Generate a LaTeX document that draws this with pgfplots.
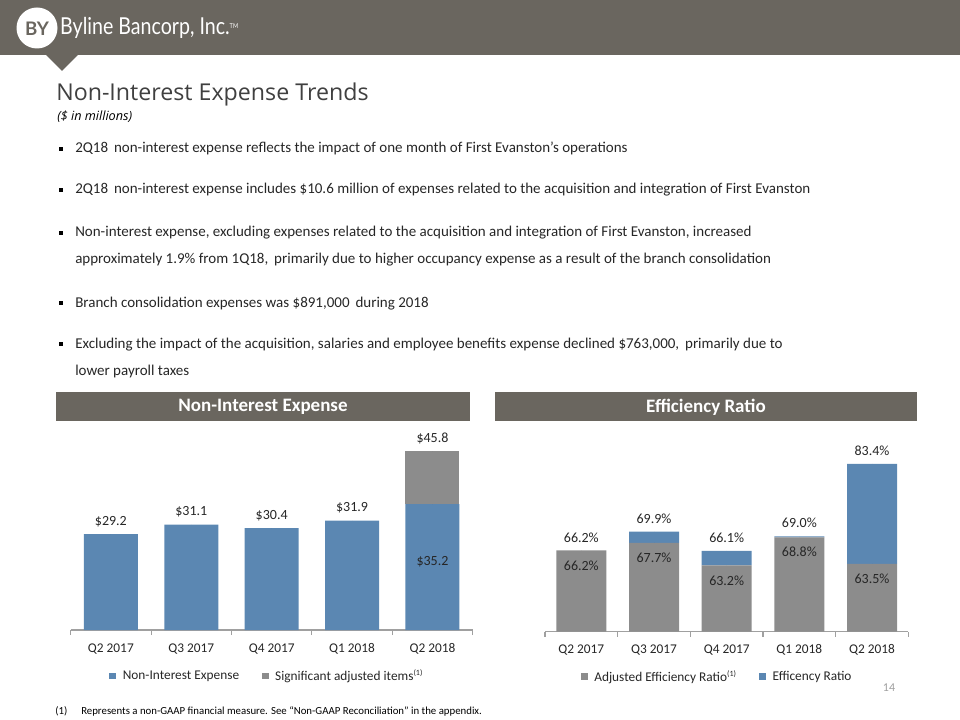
\documentclass[border=0pt]{standalone}
\usepackage{pgfplots}
\pgfplotsset{compat=1.18}
\usepackage{fontspec}
\setmainfont{Carlito}
\newfontfamily\titlefont{Open Sans}
\newfontfamily\logofont{Lato}
\definecolor{hdr}{HTML}{6A665F}
\definecolor{barblue}{HTML}{5B87B2}
\definecolor{bargray}{HTML}{8C8C8C}
\definecolor{txt}{HTML}{404040}
\definecolor{lbl}{HTML}{262626}
\definecolor{axgray}{HTML}{A0A0A0}

\pgfplotstableread{
x ner adj
0 29.2 0
1 31.1 0
2 30.4 0
3 31.9 0
4 35.2 10.6
}\nieTable
\pgfplotstableread{
x adjeff delta
0 66.2 0.0
1 67.7 2.2
2 63.2 2.9
3 68.8 0.2
4 63.5 19.9
}\effTable

\pgfplotsset{
  slidebars/.style={
    scale only axis, anchor=south west,
    ybar stacked,
    xmin=-0.5, xmax=4.5,
    axis x line*=bottom, axis y line=none,
    x axis line style={axgray, line width=0.8pt},
    xtick={0,1,2,3,4},
    xticklabels={Q2 2017,Q3 2017,Q4 2017,Q1 2018,Q2 2018},
    minor xtick={-0.5,0.5,1.5,2.5,3.5,4.5},
    major tick length=0pt, minor tick length=3.75pt,
    tick align=outside, tick style={axgray, line width=0.8pt},
    xticklabel style={font=\fontsize{10}{12}\selectfont, text=lbl, anchor=base, yshift=-16.5pt},
    clip=false,
    legend cell align=left,
    legend image code/.code={\fill[##1, draw=none] (0pt,-2.5pt) rectangle (5pt,2.5pt);},
  },
  labelaxis/.style={
    scale only axis, anchor=south west, hide axis,
    xmin=-0.5, xmax=4.5, clip=false,
  },
  lblplot/.style={
    only marks, mark=*, mark size=0pt, mark options={draw=none, fill=none},
    point meta=explicit symbolic, nodes near coords,
    nodes near coords style={font=\fontsize{10.5}{12}\selectfont, text=lbl, anchor=center, yshift=#1},
  },
  sliderlegend/.style={
    legend style={at={#1}, anchor=center, draw=none, fill=none, legend columns=2,
    font=\fontsize{10}{12}\selectfont, text=lbl,
    /tikz/every odd column/.append style={column sep=3pt},
    /tikz/every even column/.append style={column sep=15pt}},
  },
}

\begin{document}
\begin{tikzpicture}
\begin{scope}[x=0.75pt,y=-0.75pt]
\path[use as bounding box] (0,0) rectangle (960,720);
% header
\fill[hdr] (0,0) rectangle (960,55);
\fill[hdr] (45,54) -- (79,54) -- (62,71) -- cycle;
\fill[white] (37,28) circle (20.5);
\node[text=hdr, font=\logofont\bfseries\fontsize{14}{14}\selectfont, inner sep=0] at (37,29) {BY};
\node[anchor=base west, text=white, font=\logofont\fontsize{17.5}{18}\selectfont, inner sep=0, xscale=0.84] at (60,35) {Byline Bancorp, Inc.{\fontsize{5}{5}\selectfont\raisebox{5pt}{TM}}};
% title
\node[anchor=base west, inner sep=0, text=txt, font=\titlefont\fontsize{17.4}{20}\selectfont] at (56,101) {Non-Interest Expense Trends};
\node[anchor=base west, inner sep=0, text=black, font=\titlefont\itshape\fontsize{9.5}{11}\selectfont] at (57,121) {(\$ in millions)};
% bullets
\foreach \yy in {149,190,233,303,344} {\fill[black] (59,\yy-2) rectangle (63,\yy+2);}
\begin{scope}[every node/.style={anchor=base west, inner sep=0, text=lbl, font=\fontsize{11.25}{13}\selectfont}]
\node at (75,153) {2Q18\, non-interest expense reflects the impact of one month of First Evanston’s operations};
\node at (75,194) {2Q18\, non-interest expense includes \$10.6 million of expenses related to the acquisition and integration of First Evanston};
\node at (75,237) {Non-interest expense, excluding expenses related to the acquisition and integration of First Evanston, increased};
\node at (75,264) {approximately 1.9\% from 1Q18,\, primarily due to higher occupancy expense as a result of the branch consolidation};
\node at (75,307) {Branch consolidation expenses was \$891,000\, during 2018};
\node at (75,348) {Excluding the impact of the acquisition, salaries and employee benefits expense declined \$763,000,\, primarily due to};
\node at (75,375) {lower payroll taxes};
\end{scope}
% section headers
\fill[hdr] (56,392) rectangle (470,421);
\fill[hdr] (495,392) rectangle (917,421);
\node[text=white, font=\bfseries\fontsize{14.25}{16}\selectfont] at (263,407) {Non-Interest Expense};
\node[text=white, font=\bfseries\fontsize{14.25}{16}\selectfont] at (706,407) {Efficiency Ratio};
% page number & footnote
\node[text=axgray, font=\fontsize{9}{10}\selectfont] at (889,688) {14};
\node[anchor=base west, inner sep=0, text=black, font=\fontsize{8.1}{9}\selectfont] at (55,714) {(1)};
\node[anchor=base west, inner sep=0, text=black, font=\fontsize{8.1}{9}\selectfont] at (81,714) {Represents a non-GAAP financial measure. See “Non-GAAP Reconciliation” in the appendix.};
\end{scope}

% ---------- Non-Interest Expense chart ----------
\begin{axis}[slidebars, at={(53.0pt,-472.5pt)}, width=301.5pt, height=150pt,
  ymin=10, ymax=50, bar width=40.5pt,
  sliderlegend={(0.49,-0.23)},
]
\addplot[fill=barblue, draw=none] table[x=x, y=ner] {\nieTable};
\addlegendentry{Non-Interest Expense}
\addplot[fill=bargray, draw=none] table[x=x, y=adj] {\nieTable};
\addlegendentry{Significant adjusted items\textsuperscript{\fontsize{6}{6}\selectfont(1)}}
\end{axis}
\begin{axis}[labelaxis, at={(53.0pt,-472.5pt)}, width=301.5pt, height=150pt, ymin=10, ymax=50]
\addplot[lblplot=9.5pt] coordinates {(0,29.2) [\$29.2] (1,31.1) [\$31.1] (2,30.4) [\$30.4] (3,31.9) [\$31.9] (4,45.8) [\$45.8]};
\addplot[lblplot=-43.5pt] coordinates {(4,35.2) [\$35.2]};
\end{axis}

% ---------- Efficiency Ratio chart ----------
\begin{axis}[slidebars, at={(408.75pt,-473.8pt)}, width=272.5pt, height=150.75pt,
  ymin=50, ymax=90, bar width=37.5pt,
  sliderlegend={(0.475,-0.224)},
]
\addplot[fill=bargray, draw=none] table[x=x, y=adjeff] {\effTable};
\addlegendentry{Adjusted Efficiency Ratio\textsuperscript{\fontsize{6}{6}\selectfont(1)}}
\addplot[fill=barblue, draw=none] table[x=x, y=delta] {\effTable};
\addlegendentry{Efficency Ratio}
\end{axis}
\begin{axis}[labelaxis, at={(408.75pt,-473.8pt)}, width=272.5pt, height=150.75pt, ymin=50, ymax=90]
\addplot[lblplot=9.75pt] coordinates {(0,66.2) [66.2\%] (1,69.9) [69.9\%] (2,66.1) [66.1\%] (3,69.0) [69.0\%] (4,83.4) [83.4\%]};
\addplot[lblplot=-11.25pt] coordinates {(0,66.2) [66.2\%] (1,67.7) [67.7\%] (2,63.2) [63.2\%] (3,68.8) [68.8\%] (4,63.5) [63.5\%]};
\end{axis}
\end{tikzpicture}
\end{document}
